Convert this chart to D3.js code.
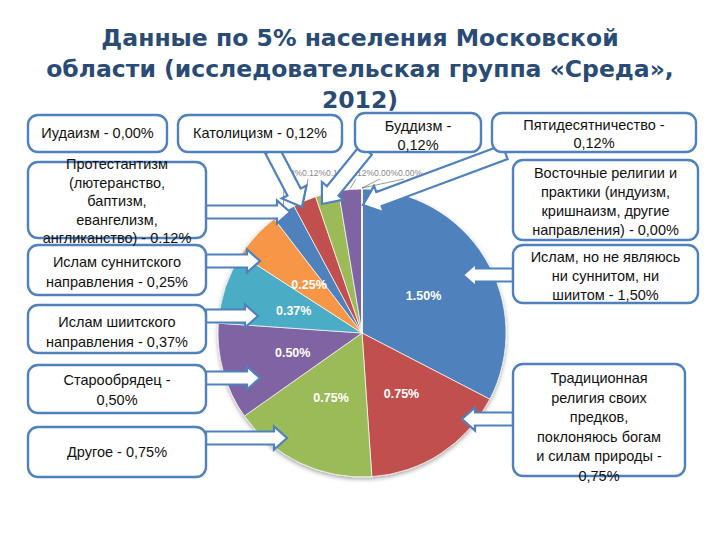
<!DOCTYPE html>
<html><head><meta charset="utf-8">
<script src="https://cdn.jsdelivr.net/npm/d3@7"></script>
<style>body{margin:0;background:#fff}svg{display:block}</style>
</head><body>
<svg id="c" width="720" height="540"></svg>
<script>
// ---- data ----
const categories = [
  "Ислам, но не являюсь ни суннитом, ни шиитом",
  "Традиционная религия своих предков, поклоняюсь богам и силам природы",
  "Другое",
  "Старообрядец",
  "Ислам шиитского направления",
  "Ислам суннитского направления",
  "Протестантизм",
  "Католицизм",
  "Буддизм",
  "Пятидесятничество",
  "Иудаизм",
  "Восточные религии и практики"
];
const values = [1.50, 0.75, 0.75, 0.50, 0.37, 0.25, 0.12, 0.12, 0.12, 0.12, 0.00, 0.00];
const sliceColors = ["#4f81bd","#c0504d","#9bbb59","#8064a2","#4bacc6","#f79646",
                     "#4f81bd","#c0504d","#9bbb59","#8064a2","#4bacc6","#f79646"];
const boxTexts = [
  ["Ислам, но не являюсь","ни суннитом, ни","шиитом - 1,50%"],
  ["Традиционная","религия своих","предков,","поклоняюсь богам","и силам природы -","0,75%"],
  ["Другое - 0,75%"],
  ["Старообрядец -","0,50%"],
  ["Ислам шиитского","направления - 0,37%"],
  ["Ислам суннитского","направления - 0,25%"],
  ["Протестантизм","(лютеранство,","баптизм,","евангелизм,","англиканство) - 0.12%"],
  ["Католицизм - 0,12%"],
  ["Буддизм -","0,12%"],
  ["Пятидесятничество -","0,12%"],
  ["Иудаизм - 0,00%"],
  ["Восточные религии и","практики (индуизм,","кришнаизм, другие","направления) - 0,00%"]
];
const titleLines = ["Данные по 5% населения Московской","области (исследовательская группа «Среда»,","2012)"];

// ---- layout ----
const layout = [
  {x:513,y:245,w:185,h:58, cy:276, lh:19, ar:[513,275,463,275,'s']},
  {x:513,y:364,w:172,h:112,cy:427, lh:19.6, ar:[513,419,462,419,'s']},
  {x:28, y:427,w:178,h:50, cy:452, lh:19, ar:[206,438,287,438,'s']},
  {x:28, y:365,w:178,h:48, cy:390, lh:20, ar:[206,378,260,378,'s']},
  {x:28, y:305,w:178,h:48, cy:332, lh:20, ar:[206,316,258,316,'s']},
  {x:28, y:245,w:178,h:50, cy:272, lh:20, ar:[206,261,260,261,'s']},
  {x:28, y:162,w:178,h:76, cy:201, lh:18.5, ar:[206,212,290,212,'s']},
  {x:178,y:115,w:164,h:37, cy:133, lh:19, ar:[272,150,302,207,'b']},
  {x:355,y:113,w:126,h:39, cy:135, lh:19, ar:[366,150,322,204,'b']},
  {x:492,y:113,w:204,h:39, cy:134, lh:18, ar:[505,152,363,205,'b']},
  {x:28, y:115,w:139,h:37, cy:133, lh:19, ar:null},
  {x:513,y:160,w:185,h:80, cy:201, lh:19, ar:null}
];

const svg = d3.select("#c");
const cx = 362, cy = 333, R = 144;
const blue = "#4f81bd";

// title
const title = svg.append("text").attr("text-anchor","middle")
  .attr("font-family","DejaVu Sans, sans-serif").attr("font-weight","bold")
  .attr("font-size",23.5).attr("fill","#2a4b74");
titleLines.forEach((t,i)=>{
  title.append("tspan").attr("x",360).attr("y",46+i*31).text(t);
});

// defs
const defs = svg.append("defs");
const f = defs.append("filter").attr("id","sh").attr("x","-20%").attr("y","-20%").attr("width","140%").attr("height","140%");
f.append("feDropShadow").attr("dx",0).attr("dy",2).attr("stdDeviation",2).attr("flood-color","#000").attr("flood-opacity",0.35);

// pie
const pie = d3.pie().sort(null).value(d=>d).startAngle(0).endAngle(2*Math.PI);
const arcs = pie(values);
const arc = d3.arc().innerRadius(0).outerRadius(R);
const g = svg.append("g").attr("transform",`translate(${cx},${cy})`);
g.append("g").attr("filter","url(#sh)").selectAll("path").data(arcs).join("path")
  .attr("d",arc).attr("fill",(d,i)=>sliceColors[i])
  .attr("stroke","#ffffff").attr("stroke-opacity",0.7).attr("stroke-width",1);

// inside labels
g.selectAll("text.in").data(arcs.filter(d=>d.data>=0.25)).join("text")
  .attr("class","in")
  .attr("transform",d=>`translate(${arc.centroid(d)})`)
  .attr("text-anchor","middle").attr("dy","0.35em")
  .attr("font-family","Liberation Sans, Arial, sans-serif").attr("font-weight","bold")
  .attr("font-size",12.5).attr("fill","#ffffff")
  .text(d=>d.data.toFixed(2)+"%");

// small outside labels with leader lines
const small = arcs.filter(d=>d.data<0.25);
small.forEach((d,k)=>{
  const mid = (d.startAngle+d.endAngle)/2;
  const px = cx+Math.sin(mid)*(R+1), py = cy-Math.cos(mid)*(R+1);
  const lx = 290 + k*24;
  const ly = 176;
  svg.append("line").attr("x1",lx-6).attr("y1",ly+3).attr("x2",px).attr("y2",py)
    .attr("stroke","#555").attr("stroke-width",0.6);
  svg.append("text").attr("x",lx).attr("y",ly).attr("text-anchor","middle")
    .attr("font-family","Liberation Sans, Arial, sans-serif").attr("font-size",8.5)
    .attr("fill","#888").text(d.data.toFixed(2)+"%");
});

// arrows
function arrowPath(x1,y1,x2,y2,sh,hh,hl){
  const dx=x2-x1, dy=y2-y1, L=Math.hypot(dx,dy);
  const ux=dx/L, uy=dy/L, nx=-uy, ny=ux;
  const bx=x2-ux*hl, by=y2-uy*hl;
  const p=[[x1+nx*sh,y1+ny*sh],[bx+nx*sh,by+ny*sh],[bx+nx*hh,by+ny*hh],[x2,y2],
           [bx-nx*hh,by-ny*hh],[bx-nx*sh,by-ny*sh],[x1-nx*sh,y1-ny*sh]];
  return "M"+p.map(q=>q.join(",")).join("L")+"Z";
}
const ag = svg.append("g");
layout.forEach(l=>{
  if(!l.ar) return;
  const [x1,y1,x2,y2,t]=l.ar;
  const big = t==='b';
  ag.append("path").attr("d",arrowPath(x1,y1,x2,y2,big?7.5:6.5,big?14:11.5,big?17:13))
    .attr("fill","#fff").attr("stroke",blue).attr("stroke-width",2.2).attr("stroke-linejoin","miter");
});

// boxes
const bg = svg.append("g");
layout.forEach((l,i)=>{
  bg.append("rect").attr("x",l.x).attr("y",l.y).attr("width",l.w).attr("height",l.h)
    .attr("rx",10).attr("fill","#fff").attr("stroke",blue).attr("stroke-width",2.4);
  const lines = boxTexts[i];
  const t = bg.append("text").attr("text-anchor","middle")
    .attr("font-family","Liberation Sans, Arial, sans-serif").attr("font-size",14.5).attr("fill","#111");
  const n = lines.length;
  lines.forEach((s,k)=>{
    t.append("tspan").attr("x",l.x+l.w/2).attr("y",l.cy+(k-(n-1)/2)*l.lh).attr("dy","0.35em").text(s);
  });
});
</script>
</body></html>
